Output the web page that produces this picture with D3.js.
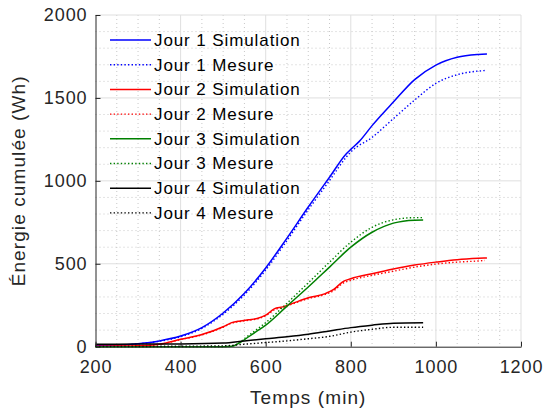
<!DOCTYPE html>
<html>
<head>
<meta charset="utf-8">
<script src="https://cdn.jsdelivr.net/npm/d3@7"></script>
<style>
  body { margin: 0; background: #fff; }
  text { font-family: "Liberation Sans", Arial, Helvetica, sans-serif; }
</style>
</head>
<body>
<svg width="546" height="410"></svg>
<script>
// Jour 1
const j1SimT = [200, 250, 300, 350, 400, 450, 500, 550, 600, 650, 700, 750, 790, 800, 820, 850, 900, 950, 1000, 1050, 1100, 1120];
const j1SimE = [5, 8, 18, 35, 64, 115, 203, 322, 475, 655, 842, 1022, 1165, 1190, 1238, 1333, 1475, 1610, 1698, 1745, 1762, 1765];
const j1MesT = [200, 250, 300, 350, 400, 450, 500, 550, 600, 650, 700, 750, 790, 800, 850, 900, 950, 1000, 1050, 1100, 1115];
const j1MesE = [5, 8, 17, 33, 60, 110, 196, 312, 462, 640, 826, 1002, 1145, 1174, 1262, 1375, 1487, 1588, 1640, 1662, 1665];
// Jour 2
const j2SimT = [200, 250, 300, 350, 400, 450, 500, 520, 540, 560, 580, 600, 620, 640, 660, 700, 740, 760, 780, 800, 850, 900, 950, 1000, 1050, 1100, 1120];
const j2SimE = [3, 4, 6, 15, 45, 73, 120, 145, 155, 162, 170, 190, 228, 240, 258, 295, 320, 345, 390, 410, 440, 468, 492, 510, 525, 533, 535];
const j2MesT = [200, 250, 300, 350, 400, 450, 500, 520, 540, 560, 580, 600, 620, 640, 660, 700, 740, 760, 780, 800, 850, 900, 950, 1000, 1050, 1100, 1115];
const j2MesE = [3, 4, 6, 14, 43, 71, 118, 142, 152, 160, 168, 186, 222, 236, 255, 290, 315, 338, 380, 400, 430, 455, 480, 498, 510, 517, 520];
// Jour 3
const j3SimT = [200, 300, 400, 500, 520, 540, 560, 580, 600, 650, 700, 750, 800, 850, 900, 950, 970];
const j3SimE = [0, 0, 0, 0, 2, 25, 60, 95, 130, 245, 360, 480, 600, 690, 745, 763, 764];
const j3MesT = [200, 300, 400, 500, 520, 540, 560, 580, 600, 650, 700, 750, 800, 850, 900, 950, 970];
const j3MesE = [0, 0, 0, 0, 3, 30, 68, 106, 145, 262, 385, 510, 630, 720, 765, 778, 778];
// Jour 4
const j4SimT = [200, 300, 400, 500, 550, 600, 650, 700, 750, 800, 850, 900, 970];
const j4SimE = [15, 16, 17, 22, 35, 48, 60, 75, 95, 115, 130, 142, 145];
const j4MesT = [200, 300, 400, 500, 550, 600, 650, 700, 750, 800, 850, 900, 970];
const j4MesE = [2, 2, 3, 5, 15, 25, 35, 48, 62, 88, 105, 117, 117];

const xTicks = [200, 400, 600, 800, 1000, 1200];
const yTicks = [0, 500, 1000, 1500, 2000];

const series = [
  { name: 'Jour 1 Simulation', t: j1SimT, e: j1SimE, color: '#0000ff', dotted: false },
  { name: 'Jour 1 Mesure', t: j1MesT, e: j1MesE, color: '#0000ff', dotted: true },
  { name: 'Jour 2 Simulation', t: j2SimT, e: j2SimE, color: '#ff0000', dotted: false },
  { name: 'Jour 2 Mesure', t: j2MesT, e: j2MesE, color: '#ff0000', dotted: true },
  { name: 'Jour 3 Simulation', t: j3SimT, e: j3SimE, color: '#008000', dotted: false },
  { name: 'Jour 3 Mesure', t: j3MesT, e: j3MesE, color: '#008000', dotted: true },
  { name: 'Jour 4 Simulation', t: j4SimT, e: j4SimE, color: '#000000', dotted: false },
  { name: 'Jour 4 Mesure', t: j4MesT, e: j4MesE, color: '#000000', dotted: true }
];

const pLeft = 95.5, pRight = 521, pTop = 15, pBottom = 346.7;
const x = d3.scaleLinear().domain([200, 1200]).range([pLeft, pRight]);
const y = d3.scaleLinear().domain([0, 2000]).range([pBottom, pTop]);

const svg = d3.select('svg');

// grille mineure
const grid = svg.append('g');
grid.selectAll('.xminor')
  .data(d3.range(250, 1200, 50).filter(v => v % 200 != 0))
  .enter().append('line')
  .attr('x1', d => x(d)).attr('x2', d => x(d))
  .attr('y1', pTop).attr('y2', pBottom)
  .attr('stroke', '#c8c8c8').attr('stroke-dasharray', '1,3');
grid.selectAll('.yminor')
  .data(d3.range(100, 2000, 100).filter(v => v % 500 != 0))
  .enter().append('line')
  .attr('x1', pLeft).attr('x2', pRight)
  .attr('y1', d => y(d)).attr('y2', d => y(d))
  .attr('stroke', '#c8c8c8').attr('stroke-dasharray', '1,3');
// grille principale
grid.selectAll('.xmajor')
  .data(xTicks.slice(1))
  .enter().append('line')
  .attr('x1', d => x(d)).attr('x2', d => x(d))
  .attr('y1', pTop).attr('y2', pBottom)
  .attr('stroke', '#dfdfdf');
grid.selectAll('.ymajor')
  .data(yTicks.slice(1))
  .enter().append('line')
  .attr('x1', pLeft).attr('x2', pRight)
  .attr('y1', d => y(d)).attr('y2', d => y(d))
  .attr('stroke', '#dfdfdf');

// courbes
const line = d3.line().x(d => x(d[0])).y(d => y(d[1])).curve(d3.curveMonotoneX);
svg.append('g').selectAll('path')
  .data(series)
  .enter().append('path')
  .attr('d', s => line(d3.zip(s.t, s.e)))
  .attr('fill', 'none')
  .attr('stroke', s => s.color)
  .attr('stroke-width', s => s.dotted ? 1.4 : 1.5)
  .attr('stroke-dasharray', s => s.dotted ? '1.4,2.2' : null);

// axes
const xAxis = svg.append('g')
  .attr('transform', `translate(0,${pBottom})`)
  .call(d3.axisBottom(x).tickValues(xTicks).tickFormat(d3.format('d'))
    .tickSizeInner(-5).tickSizeOuter(0).tickPadding(14));
const yAxis = svg.append('g')
  .attr('transform', `translate(${pLeft},0)`)
  .call(d3.axisLeft(y).tickValues(yTicks).tickFormat(d3.format('d'))
    .tickSizeInner(-5).tickSizeOuter(0).tickPadding(8));
[xAxis, yAxis].forEach(a => {
  a.select('.domain').attr('stroke', '#262626');
  a.selectAll('.tick line').attr('stroke', '#262626');
  a.selectAll('.tick text')
    .attr('fill', '#262626')
    .style('font-size', '18px')
    .style('letter-spacing', '0.9px')
    .style('font-family', '"Liberation Sans", Arial, sans-serif');
});
xAxis.selectAll('.tick text').attr('dy', '0.71em');

svg.append('text')
  .attr('x', (pLeft + pRight) / 2).attr('y', 404)
  .attr('text-anchor', 'middle')
  .attr('fill', '#262626')
  .style('font-size', '19px').style('letter-spacing', '1.1px')
  .text('Temps (min)');
svg.append('text')
  .attr('transform', `translate(25,${(pTop + pBottom) / 2}) rotate(-90)`)
  .attr('text-anchor', 'middle')
  .attr('fill', '#262626')
  .style('font-size', '19px').style('letter-spacing', '1.1px')
  .text('Énergie cumulée (Wh)');

// légende
const legend = svg.append('g').selectAll('g')
  .data(series)
  .enter().append('g')
  .attr('transform', (d, i) => `translate(110,${40 + i * 24.7})`);
legend.append('line')
  .attr('x1', 0).attr('x2', 41)
  .attr('stroke', d => d.color)
  .attr('stroke-width', d => d.dotted ? 1.4 : 1.5)
  .attr('stroke-dasharray', d => d.dotted ? '1.4,2.2' : null);
legend.append('text')
  .attr('x', 44).attr('dy', '0.35em')
  .attr('fill', '#000')
  .style('font-size', '17px').style('letter-spacing', '0.9px')
  .text(d => d.name);
</script>
</body>
</html>
